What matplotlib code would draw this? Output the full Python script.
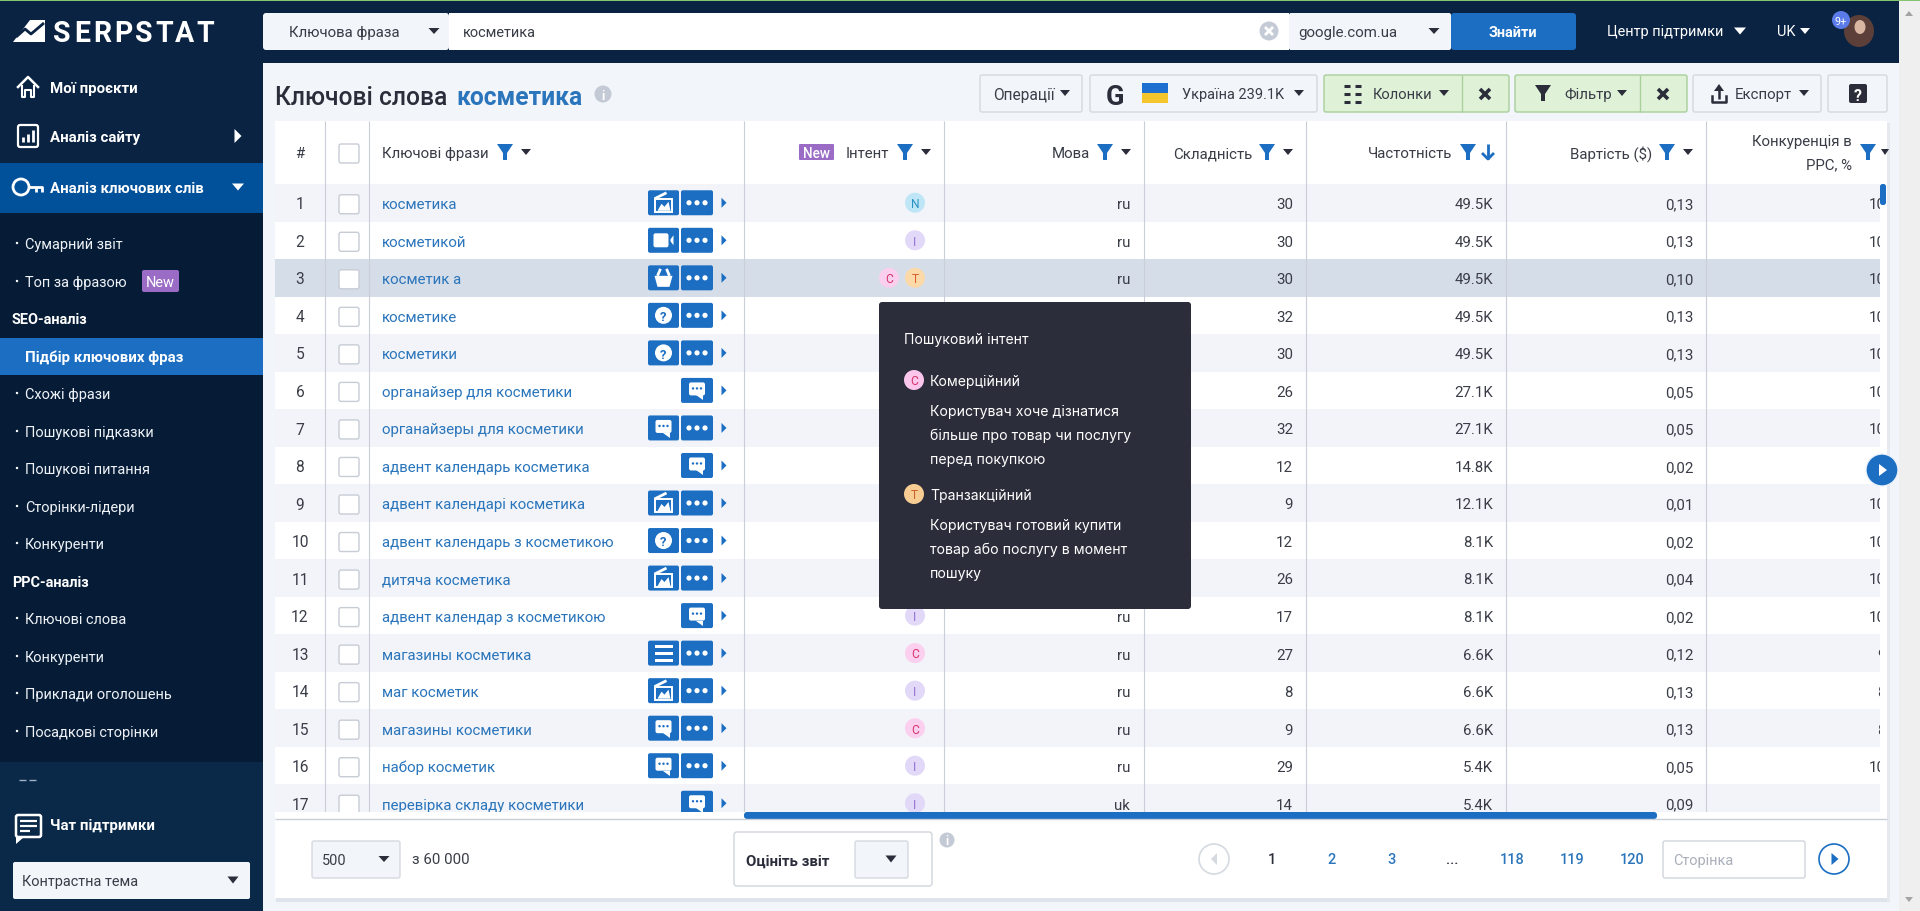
import matplotlib
matplotlib.use("Agg")
import matplotlib.pyplot as plt
from matplotlib.patches import Rectangle, FancyBboxPatch, Polygon, Circle, Ellipse

plt.rcParams['font.family'] = ['Roboto', 'DejaVu Sans']

# table data
ranks = list(range(1, 18))
phrases = ["косметика", "косметикой", "косметик а", "косметике", "косметики",
           "органайзер для косметики", "органайзеры для косметики", "адвент календарь косметика",
           "адвент календарі косметика", "адвент календарь з косметикою", "дитяча косметика",
           "адвент календар з косметикою", "магазины косметика", "маг косметик",
           "магазины косметики", "набор косметик", "перевірка складу косметики"]
row_icons = ["photo", "video", "basket", "help", "help", "chat", "chat", "chat", "photo",
             "help", "photo", "chat", "list", "photo", "chat", "chat", "chat"]
has_dots = [1, 1, 1, 1, 1, 0, 1, 0, 1, 1, 1, 0, 1, 1, 1, 1, 0]
intents = ["N", "I", "CT", "", "", "", "", "", "", "", "", "I", "C", "I", "C", "I", "I"]
langs = ["ru", "ru", "ru", "", "", "", "", "", "", "", "", "ru", "ru", "ru", "ru", "ru", "uk"]
difficulty = [30, 30, 30, 32, 30, 26, 32, 12, 9, 12, 26, 17, 27, 8, 9, 29, 14]
volume = ["49.5K", "49.5K", "49.5K", "49.5K", "49.5K", "27.1K", "27.1K", "14.8K", "12.1K",
          "8.1K", "8.1K", "8.1K", "6.6K", "6.6K", "6.6K", "5.4K", "5.4K"]
cost = ["0,13", "0,13", "0,10", "0,13", "0,13", "0,05", "0,05", "0,02", "0,01", "0,02",
        "0,04", "0,02", "0,12", "0,13", "0,13", "0,05", "0,09"]
ppc = ["100", "100", "100", "100", "100", "100", "100", "100", "100", "100", "100", "100",
       "97", "85", "86", "100", ""]

# sidebar
main_menu = ["Мої проєкти", "Аналіз сайту", "Аналіз ключових слів"]
main_menu_y = [88, 137, 188]
sub_menu = [("Сумарний звіт", 244), ("Топ за фразою", 282), ("Схожі фрази", 394),
            ("Пошукові підказки", 432), ("Пошукові питання", 469), ("Сторінки-лідери", 507),
            ("Конкуренти", 544), ("Ключові слова", 619), ("Конкуренти", 657),
            ("Приклади оголошень", 694), ("Посадкові сторінки", 732)]
pages = ["1", "2", "3", "...", "118", "119", "120"]
pages_x = [1272, 1331, 1391, 1452, 1512, 1572, 1632]

NAVY = "#0a2342"
BLUE = "#1b6ec2"
LINK = "#2a75bb"
TEXT = "#3a3d47"
DARK = "#2b2d3a"
LINE = "#c9ced8"
PAGE = "#f2f5fa"

ROW_TOP = 185
ROW_H = 37.53

fig = plt.figure(figsize=(19.2, 9.12), dpi=100)
ax = fig.add_axes([0, 0, 1, 1])
ax.set_xlim(0, 1920)
ax.set_ylim(912, 0)
ax.axis("off")


def box(x0, y0, x1, y1, color, r=0, ec="none", lw=1, z=1):
    if r:
        p = FancyBboxPatch((x0, y0), x1 - x0, y1 - y0, boxstyle="round,pad=0,rounding_size=%s" % r,
                           fc=color, ec=ec, lw=lw, zorder=z)
    else:
        p = Rectangle((x0, y0), x1 - x0, y1 - y0, fc=color, ec=ec, lw=lw, zorder=z)
    ax.add_patch(p)
    return p


def txt(x, y, s, px=15, color=TEXT, ha="left", weight="normal", z=5, family=None):
    # size is given in css pixels, dpi is 100. y is the middle of the x-height line box
    t = ax.text(x, y + px * 0.36, s, fontsize=px * 0.72, color=color, ha=ha, va="baseline", weight=weight, zorder=z)
    if family:
        t.set_family(family)
    return t


def down(x, y, w=11, h=6, color=DARK, z=5):
    ax.add_patch(Polygon([(x - w / 2, y - h / 2), (x + w / 2, y - h / 2), (x, y + h / 2)], fc=color, ec="none", zorder=z))


def right(x, y, w=6, h=11, color=BLUE, z=5):
    ax.add_patch(Polygon([(x - w / 2, y - h / 2), (x + w / 2, y), (x - w / 2, y + h / 2)], fc=color, ec="none", zorder=z))


def funnel(x, y, color=BLUE, s=1.0, z=5):
    pts = [(-8, -8), (8, -8), (2, 1), (2, 8), (-2, 8), (-2, 1)]
    ax.add_patch(Polygon([(x + a * s, y + b * s) for a, b in pts], fc=color, ec="none", zorder=z))


def info(x, y, r=9):
    ax.add_patch(Ellipse((x, y), r * 2, r * 2, fc="#c3cad6", ec="none", zorder=4))
    txt(x, y, "i", r * 1.5, "white", "center", "bold")


def line(xs, ys, color="white", lw=1.5, z=6):
    ax.plot(xs, ys, color=color, lw=lw, solid_capstyle="butt", zorder=z)


def row_icon(kind, cx, cy):
    # little white glyphs on the blue buttons
    if kind == "photo":
        box(cx - 9, cy - 4, cx + 8, cy + 9, "none", ec="white", lw=1.4, z=6)
        ax.add_patch(Polygon([(cx - 6, cy + 8), (cx - 2, cy + 1), (cx + 1, cy + 4), (cx + 5, cy - 1), (cx + 7, cy + 8)], fc="white", zorder=6))
        line([cx - 9, cx + 3], [cy - 4, cy - 10], lw=2)
    elif kind == "video":
        box(cx - 10, cy - 7, cx + 5, cy + 7, "white", r=2, z=6)
        ax.add_patch(Polygon([(cx + 7, cy - 1), (cx + 10, cy - 5), (cx + 10, cy + 5), (cx + 7, cy + 1)], fc="white", zorder=6))
    elif kind == "basket":
        ax.add_patch(Polygon([(cx - 9, cy - 2), (cx + 9, cy - 2), (cx + 6, cy + 9), (cx - 6, cy + 9)], fc="white", zorder=6))
        line([cx - 6, cx - 3], [cy - 2, cy - 9], lw=2)
        line([cx + 6, cx + 3], [cy - 2, cy - 9], lw=2)
    elif kind == "help":
        ax.add_patch(Ellipse((cx, cy), 17, 17, fc="white", zorder=6))
        txt(cx, cy, "?", 13, BLUE, "center", "bold", z=7)
    elif kind == "chat":
        box(cx - 8, cy - 8, cx + 8, cy + 5, "white", r=2, z=6)
        ax.add_patch(Polygon([(cx - 1, cy + 5), (cx + 6, cy + 5), (cx + 6, cy + 10)], fc="white", zorder=6))
        for d in (-4, 0, 4):
            ax.add_patch(Circle((cx + d, cy - 2), 1.2, fc=BLUE, zorder=7))
    elif kind == "list":
        for d in (-7, 0, 7):
            box(cx - 9, cy + d - 1.5, cx + 9, cy + d + 1.5, "white", z=6)


def badge(x, y, letter, r=10):
    colors = {"N": ("#bfe6f7", "#2a93c4"), "I": ("#e2d8f8", "#9070d0"),
              "C": ("#fbd0ee", "#d6336c"), "T": ("#fbd9a8", "#d9622b")}
    bg, fg = colors[letter]
    ax.add_patch(Ellipse((x, y), r * 2, r * 2, fc=bg, ec="none", zorder=4))
    txt(x, y, letter, 12, fg, "center", z=5)


# page background
box(0, 0, 1920, 912, PAGE, z=0)
box(1899, 0, 1920, 912, "#efefef", z=0)
ax.add_patch(Polygon([(1905, 17), (1913, 17), (1909, 12)], fc="#a3a3a3", zorder=1))
ax.add_patch(Polygon([(1905, 898), (1913, 898), (1909, 903)], fc="#a3a3a3", zorder=1))

# top bar
box(0, 2, 1899, 64, NAVY, z=1)
box(0, 0, 1920, 2, "#86c56f", z=2)

# sidebar
box(0, 2, 263, 912, NAVY, z=1)
box(0, 214, 263, 763, "#061c36", z=1)
box(0, 763, 263, 912, "#0a2848", z=1)
box(0, 164, 263, 214, "#00509a", z=2)
box(0, 339, 263, 376, BLUE, z=2)

# logo
ax.add_patch(Polygon([(13, 43), (30, 21), (45, 21), (45, 43)], fc="white", zorder=3))
line([16, 25, 31, 44], [38, 30, 35, 24], NAVY, 2)
for i, ch in enumerate("SERPSTAT"):
    txt(62 + i * 20.4, 32, ch, 28.5, "white", "center", "bold")

# main menu
for name, y in zip(main_menu, main_menu_y):
    txt(50, y, name, 15, "white", weight="bold")
right(238, 137, 7, 14, "white")
down(238, 188, 12, 7, "white")
# house
ax.plot([18, 28, 38], [88, 78, 88], color="white", lw=1.8, zorder=5)
ax.plot([22, 22, 25, 25, 31, 31, 34, 34], [87, 98, 98, 91, 91, 98, 98, 87], color="white", lw=1.5, zorder=5)
# site analysis
box(18, 126, 38, 148, "none", r=2, ec="white", lw=1.6, z=5)
for dx, h in zip((23, 28, 33), (5, 8, 12)):
    line([dx, dx], [143, 143 - h], "white", 2)
# key
ax.add_patch(Ellipse((21, 188), 16, 16, fc="none", ec="white", lw=2, zorder=5))
line([29, 42, 42], [188, 188, 193], "white", 2)
line([36, 36], [188, 193], "white", 2)

for name, y in sub_menu:
    ax.add_patch(Circle((17, y), 1.2, fc="white", zorder=5))
    txt(25, y, name, 14.5, "#eef2f7")
txt(25, 357, "Підбір ключових фраз", 15, "white", weight="bold")
txt(12, 319, "SEO-аналіз", 14.5, "white", weight="bold")
txt(12, 582, "PPC-аналіз", 14.5, "white", weight="bold")
box(142, 271, 179, 293, "#9a6cc6", r=2, z=3)
txt(160.5, 282, "New", 14.5, "white", "center")
line([19, 26], [781, 781], "#9fb0c5", 1)
line([29, 36], [781, 781], "#9fb0c5", 1)
# chat
box(16, 816, 41, 838, "none", r=2, ec="white", lw=1.8, z=5)
ax.add_patch(Polygon([(16, 838), (16, 845), (24, 838)], fc="white", zorder=5))
for yy, xe in ((822, 37), (827, 37), (832, 30)):
    line([20, xe], [yy, yy], "white", 1.6)
txt(50, 825, "Чат підтримки", 15, "white", weight="bold")
box(13, 863, 250, 900, PAGE, r=2, z=3)
txt(22, 881, "Контрастна тема", 14.5)
down(233, 881, 11, 7)

# search bar
box(263, 14, 449, 51, PAGE, r=3, z=2)
box(449, 14, 1289, 51, "white", z=2)
box(1289, 14, 1451, 51, PAGE, r=2, z=2)
box(1451, 14, 1576, 51, BLUE, r=3, z=2)
txt(289, 32, "Ключова фраза", 15)
down(434, 32, 11, 6)
txt(463, 32, "косметика", 14.5)
ax.add_patch(Ellipse((1269, 32), 19, 19, fc="#c5cbd6", ec="none", zorder=4))
line([1265, 1273], [28, 36], "white", 2)
line([1265, 1273], [36, 28], "white", 2)
txt(1298, 32, "google.com.ua", 15)
down(1434, 32, 11, 6)
txt(1513, 32, "Знайти", 14.5, "white", "center", "bold")

txt(1607, 31, "Центр підтримки", 14.5, "white")
down(1740, 32, 12, 7, "white")
txt(1777, 31, "UK", 14.5, "white")
down(1805, 32, 10, 6, "white")
ax.add_patch(Ellipse((1859, 32), 30, 32, fc="#5c3f38", ec="none", zorder=4))
ax.add_patch(Ellipse((1860, 28), 11, 14, fc="#d8b6a2", ec="none", zorder=5))
ax.add_patch(Ellipse((1841, 21), 18, 18, fc="#5a7be8", ec="none", zorder=6))
txt(1841, 21, "9+", 11, "white", "center", z=7)

# title
txt(275, 96, "Ключові слова", 24.6, DARK, weight="medium")
txt(456, 96, "косметика", 24.6, LINK, weight="bold")
info(603, 95, 8.5)

# toolbar
for x0, x1 in ((980, 1082), (1090, 1317), (1693, 1821), (1828, 1887)):
    box(x0, 76, x1, 113, PAGE, r=2, ec="#d5d9e0", z=2)
for x0, x1, div in ((1324, 1509, 1462), (1515, 1687, 1640)):
    box(x0, 76, x1, 113, "#dff2d8", r=2, ec="#a9cf9b", z=2)
    line([div, div], [76, 113], "#a9cf9b", 1, z=3)
txt(993, 94, "Операції", 15.5)
down(1065, 94, 10, 6)
txt(1115, 95, "G", 27, DARK, "center", "bold")
box(1142, 84, 1168, 94, "#1f6fd0", z=3)
box(1142, 94, 1168, 104, "#f5c52e", z=3)
txt(1182, 94, "Україна 239.1K", 14.5)
down(1299, 94, 10, 6)
for dy in (-8, 0, 8):
    line([1344, 1350], [95 + dy, 95 + dy], DARK, 2.2)
    line([1355, 1361], [95 + dy, 95 + dy], DARK, 2.2)
txt(1373, 94, "Колонки", 14.7)
down(1444, 94, 10, 6)
txt(1564, 94, "Фільтр", 15)
funnel(1543, 94, DARK, 1.0)
down(1622, 94, 10, 6)
for cx in (1485, 1663):
    line([cx - 5, cx + 5], [90, 100], DARK, 2.6)
    line([cx - 5, cx + 5], [100, 90], DARK, 2.6)
line([1719, 1719], [88, 100], DARK, 1.8)
ax.add_patch(Polygon([(1714, 92), (1724, 92), (1719, 85)], fc=DARK, zorder=5))
ax.plot([1712, 1712, 1726, 1726], [97, 103, 103, 97], color=DARK, lw=1.8, zorder=5)
txt(1735, 94, "Експорт", 15)
down(1804, 94, 10, 6)
box(1849, 85, 1867, 104, DARK, r=2, z=3)
txt(1858, 95, "?", 16, "white", "center", "bold")

# table card
box(276, 899, 1887, 903, "#dfe3ec", z=1)
box(1887, 124, 1890, 903, "#e6e9f0", z=1)
box(275, 122, 1887, 899, "white", z=2)

col_lines = [325, 369, 744, 944, 1144, 1306, 1506, 1706]

# header
txt(300, 153, "#", 15, TEXT, "center")
box(339, 145, 359, 164, "white", r=2, ec="#c7ccd5", z=4)
txt(382, 153, "Ключові фрази", 15)
funnel(505, 153)
down(526, 153, 10, 6)
box(799, 145, 834, 161, "#9a6cc6", r=1, z=3)
txt(816.5, 153, "New", 13.5, "white", "center", "medium")
txt(889, 153, "Інтент", 15, ha="right")
funnel(905, 153)
down(926, 153, 10, 6)
for label, xr in (("Мова", 1090), ("Складність", 1252), ("Вартість ($)", 1652)):
    txt(xr, 153, label, 15, ha="right")
    funnel(xr + 15, 153)
    down(xr + 36, 153, 10, 6)
txt(1452, 153, "Частотність", 15, ha="right")
funnel(1468, 153)
line([1488, 1488], [145, 160], BLUE, 2)
ax.plot([1483, 1488, 1493], [155, 160, 155], color=BLUE, lw=2, zorder=6)
txt(1852, 141, "Конкуренція в", 15, ha="right")
txt(1852, 164, "РРС, %", 15, ha="right")
funnel(1868, 153)
down(1885, 153, 8, 6)

# rows
clip = Rectangle((275, 122), 1605, 691, transform=ax.transData)
for i in range(len(ranks)):
    top = ROW_TOP + i * ROW_H
    cy = top + ROW_H / 2
    if i == 2:
        bg = "#d5dde8"
    elif i % 2 == 0:
        bg = "#f2f4f9"
    else:
        bg = "white"
    box(275, top, 1880, min(top + ROW_H, 813), bg, z=2)
    txt(300, cy, str(ranks[i]), 15.5, TEXT, "center")
    box(339, cy - 8, 359, cy + 11, "white", r=2, ec="#c7ccd5", z=4)
    txt(382, cy, phrases[i], 15, LINK)
    if has_dots[i]:
        box(648, cy - 12.5, 679, cy + 12.5, BLUE, r=2, z=4)
        row_icon(row_icons[i], 663.5, cy)
        box(681, cy - 12.5, 713, cy + 12.5, BLUE, r=2, z=4)
        for d in (-8, 0, 8):
            ax.add_patch(Circle((697 + d, cy), 2.6, fc="white", zorder=6))
    else:
        box(681, cy - 12.5, 713, cy + 12.5, BLUE, r=2, z=4)
        row_icon(row_icons[i], 697, cy)
    right(724, cy, 5, 10)
    for k, letter in enumerate(reversed(intents[i])):
        badge(915 - k * 26, cy, letter)
    txt(1130, cy, langs[i], 15, TEXT, "right")
    txt(1293, cy, str(difficulty[i]), 15, TEXT, "right")
    txt(1493, cy, volume[i], 15, TEXT, "right")
    txt(1693, cy, cost[i], 15, TEXT, "right")
    # last column runs past the table body and is cut off there
    t = txt(1894, cy, ppc[i], 15, TEXT, "right")
    t.set_clip_path(clip)
    t.set_clip_on(True)

# cover for the row parts below the table body
box(275, 813, 1887, 899, "white", z=8)
box(744, 813, 1657, 820, BLUE, r=3, z=9)
line([275, 1887], [820.5, 820.5], "#c9ced8", 1, z=9)

for x in col_lines:
    line([x, x], [122, 813], LINE, 0.8, z=3)

# vertical scroll thumb and next-column button
box(1880, 185, 1886, 206, BLUE, r=2.5, z=7)
ax.add_patch(Ellipse((1882, 471), 32, 32, fc=BLUE, ec="#e8f0fa", lw=1, zorder=7))
right(1883, 471, 8, 12, "white", z=8)

# tooltip
box(879, 303, 1191, 610, DARK, r=3, z=10)
TF = "Inter"
txt(904, 339, "Пошуковий інтент", 14, "white", z=11, family=TF)
for y, letter, title, body in ((381, "C", "Комерційний", ["Користувач хоче дізнатися", "більше про товар чи послугу", "перед покупкою"]),
                               (495, "T", "Транзакційний", ["Користувач готовий купити", "товар або послугу в момент", "пошуку"])):
    bg, fg = {"C": ("#fbc5ec", "#d6336c"), "T": ("#f7cd94", "#c9622b")}[letter]
    ax.add_patch(Ellipse((914, y), 20, 20, fc=bg, ec="none", zorder=11))
    txt(914, y, letter, 12, fg, "center", z=12)
    txt(930, y, title, 14, "white", z=11, family=TF)
    for k, s in enumerate(body):
        txt(930, y + 30 + k * 24, s, 14.1, "white", z=11, family=TF)

# footer
box(312, 842, 400, 879, PAGE, r=2, ec="#d5d9e0", z=9)
txt(322, 860, "500", 14.5, z=10)
down(384, 860, 11, 6, z=10)
txt(412, 859, "з 60 000", 15, z=10)
box(734, 833, 932, 887, "white", r=3, ec="#d0d4dc", z=9)
txt(746, 860, "Оцініть звіт", 15, DARK, weight="bold", z=10)
box(855, 842, 908, 879, PAGE, r=2, ec="#d5d9e0", z=10)
down(891, 860, 11, 7, z=11)
ax.add_patch(Ellipse((947, 841), 15, 15, fc="#c3cad6", ec="none", zorder=10))
txt(947, 841, "i", 12, "white", "center", "bold", z=11)
ax.add_patch(Ellipse((1214, 860), 30, 30, fc="white", ec="#d5d9e0", lw=1.2, zorder=10))
ax.add_patch(Polygon([(1217, 854), (1217, 866), (1211, 860)], fc="#d5d9e0", zorder=11))
for p, x in zip(pages, pages_x):
    txt(x, 859, p, 14.5, DARK if p in ("1", "...") else LINK, "center", "medium", z=10)
box(1663, 842, 1805, 879, "white", r=2, ec="#d0d4dc", z=9)
txt(1673, 860, "Сторінка", 14.5, "#a9afba", z=10)
ax.add_patch(Ellipse((1834, 860), 30, 30, fc="white", ec=BLUE, lw=1.2, zorder=10))
right(1835, 860, 7, 12, BLUE, z=11)

fig.savefig("out.png", dpi=100)
